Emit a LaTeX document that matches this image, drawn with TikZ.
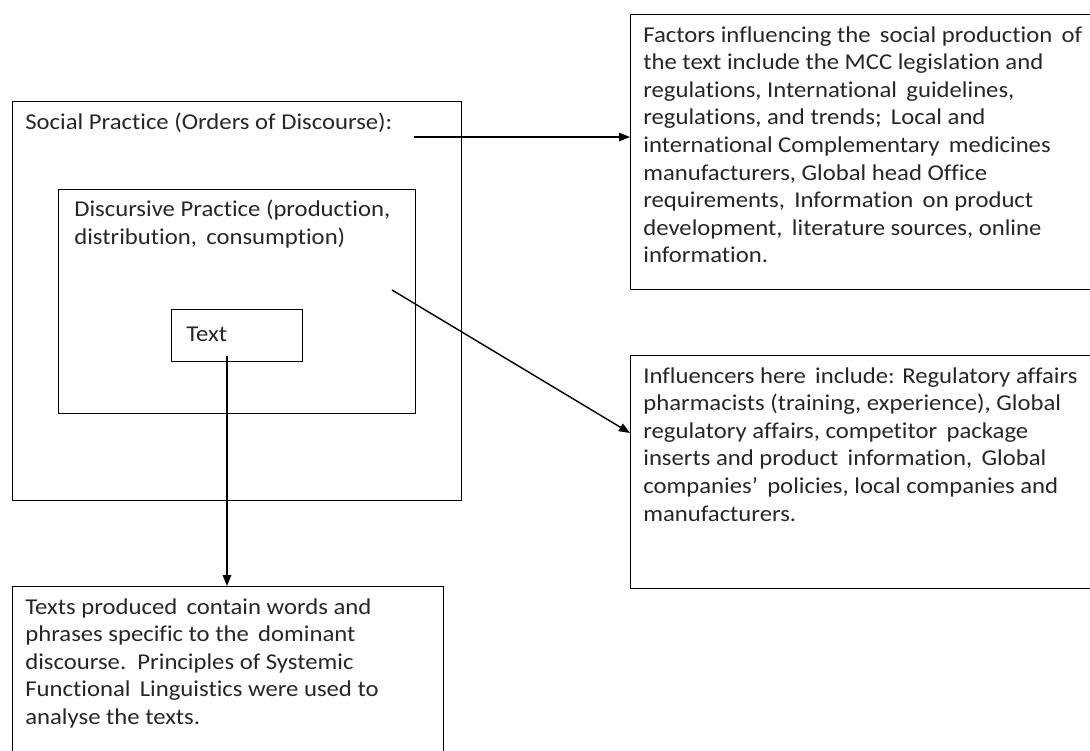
\documentclass[tikz,border=0pt]{standalone}
\usepackage{fontspec}
\setmainfont{Carlito}[FakeStretch=1.09, Ligatures=NoCommon]
\usepackage{tikz}
\usetikzlibrary{arrows.meta, positioning, calc}
\definecolor{txtgray}{RGB}{38,38,38}
\tikzset{
  frame/.style={rectangle, draw=black, line width=0.8pt, inner sep=0pt,
    anchor=north west},
  lbl/.style={anchor=north west, inner sep=0pt, align=left, text=txtgray,
    font=\fontsize{12.9}{15.7}\selectfont},
  arrow/.style={-{Triangle[length=0.22cm, width=0.17cm]}, line width=0.8pt}
}

\begin{document}
\begin{tikzpicture}[x=0.02cm, y=-0.02cm]
  \useasboundingbox (0,0) rectangle (1090,751);
  \clip (0,0) rectangle (1090,751);

  % nested practice boxes
  \node[frame, minimum width=8.98cm, minimum height=7.98cm] (social) at (12,101) {};
  \node[frame, minimum width=7.14cm, minimum height=4.48cm] (discursive) at (58,189) {};
  \node[frame, minimum width=2.62cm, minimum height=1.04cm] (textbox) at (171,309) {};

  % explanation boxes
  \node[frame, minimum width=9.4cm, minimum height=5.5cm] (factors) at (630,14) {};
  \node[frame, minimum width=9.4cm, minimum height=4.66cm] (influencers) at (630,355) {};
  \node[frame, minimum width=8.62cm, minimum height=3.8cm] (texts) at (12,586) {};

  \node[lbl] (sociallbl) at ([shift={(13,12)}]social.north west)
    {Social Practice (Orders of Discourse):};
  \node[lbl] (discursivelbl) at ([shift={(16,11)}]discursive.north west)
    {Discursive Practice (production,\\distribution,\, consumption)};
  \node[lbl] (textlbl) at ([shift={(15,18)}]textbox.north west) {Text};
  \node[lbl] (factorslbl) at ([shift={(13,12)}]factors.north west)
    {Factors influencing the\, social production\, of\\
     the text include the MCC legislation and\\
     regulations, International\, guidelines,\\
     regulations, and trends;\, Local and\\
     international Complementary\, medicines\\
     manufacturers, Global head Office\\
     requirements,\, Information\, on product\\
     development,\, literature sources, online\\
     information.};
  \node[lbl] (influencerslbl) at ([shift={(13,12)}]influencers.north west)
    {Influencers here\, include: Regulatory affairs\\
     pharmacists (training, experience), Global\\
     regulatory affairs, competitor\, package\\
     inserts and product\, information,\, Global\\
     companies’\, policies, local companies and\\
     manufacturers.};
  \node[lbl] (textslbl) at ([shift={(13,12)}]texts.north west)
    {Texts produced\, contain words and\\
     phrases specific to the\, dominant\\
     discourse.\, Principles of Systemic\\
     Functional\, Linguistics were used to\\
     analyse the texts.};

  % connectors
  \coordinate (hstart) at (414,137);
  \coordinate (dstart) at (392,290);
  \coordinate (dend) at ([shift={(0,78)}]influencers.north west);
  \coordinate (vstart) at (227,356);
  \draw[arrow] (hstart) -- (hstart -| factors.west);
  \draw[arrow] (dstart) -- (dend);
  \draw[arrow] (vstart) -- (vstart |- texts.north);
\end{tikzpicture}
\end{document}
